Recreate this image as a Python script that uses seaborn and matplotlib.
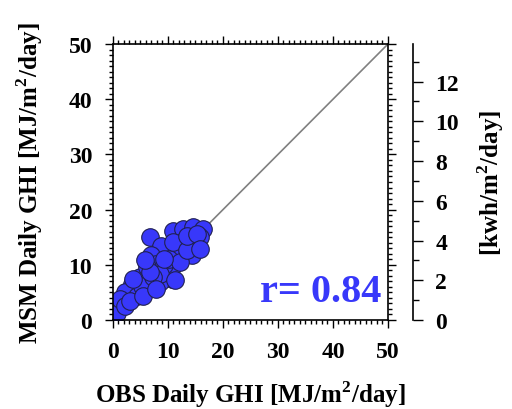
import numpy as np
import pandas as pd
import matplotlib
matplotlib.use("Agg")
import matplotlib.pyplot as plt
import seaborn as sns
from matplotlib.ticker import MultipleLocator

# daily GHI values [MJ/m2/day]
obs_ghi = [0.8, 6.7, 8.8, 11.0, 12.7, 14.6, 16.4, 14.9, 12.5, 11.6, 14.3, 4.9, 3.4, 2.2, 1.3,
           2.2, 7.0, 7.9, 6.1, 9.8, 10.7, 10.7, 9.2, 8.5, 6.7, 4.3, 3.1, 10.1, 12.2, 8.5,
           5.2, 7.3, 15.8, 11.0, 13.4, 11.3, 5.5, 7.9, 3.7, 6.7, 9.2, 5.8, 13.4, 15.2, 15.8]
msm_ghi = [1.3, 15.0, 13.4, 16.1, 16.4, 16.8, 16.5, 14.1, 14.1, 12.3, 11.7, 7.8, 6.5, 5.0, 3.8,
           2.6, 11.7, 10.2, 9.6, 8.4, 7.5, 9.6, 9.9, 6.8, 5.9, 4.4, 3.5, 11.1, 10.5, 8.4,
           6.2, 7.8, 15.0, 14.1, 12.6, 7.2, 4.4, 5.6, 7.5, 8.7, 11.1, 10.9, 15.3, 15.6, 12.9]
r_value = 0.84
axis_max = 50

df = pd.DataFrame({"obs": obs_ghi, "msm": msm_ghi})

sns.set_style("ticks")
plt.rcParams["font.family"] = ["Liberation Serif", "DejaVu Serif"]
plt.rcParams["font.weight"] = "bold"
plt.rcParams["axes.labelweight"] = "bold"
plt.rcParams["mathtext.fontset"] = "custom"
plt.rcParams["mathtext.rm"] = "Liberation Serif:bold"
plt.rcParams["mathtext.bf"] = "Liberation Serif:bold"
for key in ["text.color", "axes.labelcolor", "xtick.color", "ytick.color", "axes.edgecolor"]:
    plt.rcParams[key] = "black"

fig = plt.figure(figsize=(5.12, 4.1), dpi=100)
ax = fig.add_axes([0.2207, 0.2171, 0.5371, 0.6731])

ax.plot([0, axis_max], [0, axis_max], color="#808080", lw=1.2, zorder=1)
sns.scatterplot(data=df, x="obs", y="msm", ax=ax, s=160, color="#3838fa",
                edgecolor="#202050", linewidth=0.8, zorder=2)

ax.set_xlim(0, axis_max)
ax.set_ylim(0, axis_max)
ax.xaxis.set_major_locator(MultipleLocator(10))
ax.yaxis.set_major_locator(MultipleLocator(10))
ax.xaxis.set_minor_locator(MultipleLocator(1))
ax.yaxis.set_minor_locator(MultipleLocator(1))
ax.tick_params(which="both", direction="out", top=True, right=True, width=1.0, color="black")
ax.tick_params(which="major", length=6, labelsize=17, pad=9)
ax.tick_params(which="minor", length=3)
for sp in ax.spines.values():
    sp.set_visible(True)
    sp.set_linewidth(1.2)
    sp.set_color("black")

ax.set_xlabel(r"OBS Daily GHI [MJ/m$^\mathbf{2}$/day]", fontsize=18, labelpad=12)
ax.set_ylabel(r"MSM Daily GHI [MJ/m$^\mathbf{2}$/day]", fontsize=18, labelpad=17)

ax.text(0.975, 0.035, f"r= {r_value:.2f}", transform=ax.transAxes, ha="right", va="bottom",
        fontsize=29, fontweight="bold", color="#3838fa")

# second axis in kWh
sec = ax.secondary_yaxis(1.091, functions=(lambda v: v / 3.6, lambda v: v * 3.6))
sec.yaxis.set_major_locator(MultipleLocator(2))
sec.yaxis.set_minor_locator(MultipleLocator(1))
sec.tick_params(which="both", direction="out", width=1.0, labelsize=17, colors="black")
sec.tick_params(which="major", length=7, pad=9)
sec.tick_params(which="minor", length=4)
sec.spines["right"].set_linewidth(1.2)
sec.spines["right"].set_color("black")
sec.set_ylabel(r"[kwh/m$^\mathbf{2}$/day]", fontsize=18, labelpad=12)

fig.savefig("out.png", dpi=100)
